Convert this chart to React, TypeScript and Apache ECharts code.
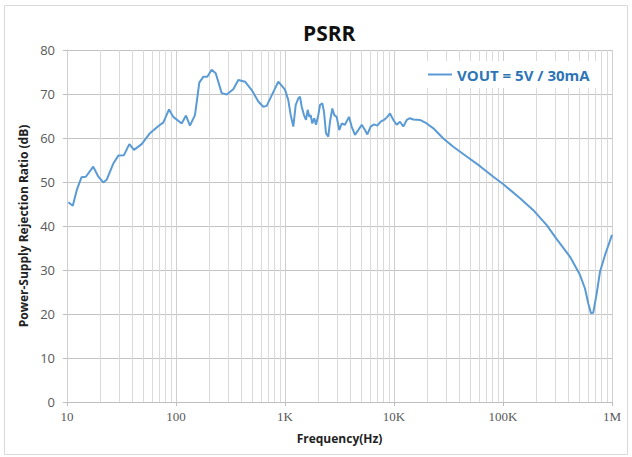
import React, { useEffect, useRef } from "react";
import * as echarts from "echarts";

// Frequency (Hz) and PSRR (dB)
const freqHz: number[] = [
  10.3, 11.3, 12.3, 13.6, 14.9, 17.4, 19.4, 21.5, 23.1, 26.6, 29.6, 33.3, 37.3, 41.2, 48.4,
  57.7, 71.3, 76.4, 86.3, 94.4, 112.8, 123.5, 134.3, 149.3, 163.6, 177.8, 193.6, 212.6, 231.4,
  262.5, 291.6, 335.6, 373, 430, 495, 569, 632, 679, 868, 1000,
  1072, 1128, 1192, 1254, 1325, 1373, 1423, 1494, 1559, 1615, 1671, 1721, 1779, 1857, 1924,
  2021, 2094, 2198, 2278, 2377, 2495, 2588, 2716, 2833, 2979, 3148, 3311, 3548, 3862, 4090,
  4387, 4699, 5055, 5420, 5689, 6109, 6561, 7031, 7551, 8091, 8689, 9185, 9863, 10590, 11350,
  12170, 13090, 14030, 15030, 17330, 19950, 22970, 28330, 35000, 46450, 61500, 81500, 100700,
  143300, 189700, 251800, 311000, 412000, 508000, 565000, 606000, 641000, 673000, 724000,
  776000, 863000, 1000000,
];
const psrrDb: number[] = [
  45.4, 44.6, 48.2, 51.1, 51.2, 53.5, 51.2, 49.9, 50.5, 54.2, 56.0, 56.1, 58.6, 57.3, 58.6,
  61.1, 63.0, 63.5, 66.5, 64.8, 63.3, 65.1, 62.8, 65.2, 72.6, 73.9, 73.9, 75.5, 74.7,
  70.2, 69.9, 71.1, 73.2, 72.8, 70.9, 68.3, 67.1, 67.3, 72.8, 71.0,
  68.6, 65.2, 62.6, 67.5, 69.0, 69.4, 67.1, 65.2, 64.1, 66.4, 64.8, 65.2, 63.3, 64.5, 63.0,
  65.2, 67.5, 67.9, 66.0, 61.1, 60.3, 63.7, 66.7, 65.2, 64.8, 61.8, 63.3, 63.0, 64.8, 62.6,
  60.7, 61.8, 63.0, 61.8, 60.8, 62.6, 63.1, 62.8, 63.7, 64.1, 64.8, 65.6, 64.1, 63.0, 63.7,
  62.6, 64.1, 64.5, 64.2, 64.1, 63.3, 62.2, 59.9, 58.0, 55.8, 53.6, 51.2, 49.5,
  46.3, 43.6, 40.2, 37.0, 33.0, 28.9, 25.8, 22.4, 20.2, 20.3, 24.7,
  29.6, 33.4, 38.0,
];

const xTickLabels: string[] = ["10", "100", "1K", "10K", "100K", "1M"];
const minorGridHz: number[] = [
  20, 30, 40, 50, 60, 70, 80, 90,
  200, 300, 400, 500, 600, 700, 800, 900,
  2000, 3000, 4000, 5000, 6000, 7000, 8000, 9000,
  20000, 30000, 40000, 50000, 60000, 70000, 80000, 90000,
  200000, 300000, 400000, 500000, 600000, 700000, 800000, 900000,
];
const seriesName = "VOUT = 5V / 30mA";
const titleText = "PSRR";
const xAxisName = "Frequency(Hz)";
const yAxisName = "Power-Supply Rejection Ratio (dB)";

export default function App() {
  const ref = useRef<HTMLDivElement>(null);
  useEffect(() => {
    if (!ref.current) return;
    const chart = echarts.init(ref.current, undefined, { renderer: "svg" });
    const data = freqHz.map((f, i) => [f, psrrDb[i]]);
    chart.setOption({
      animation: false,
      backgroundColor: "#ffffff",
      title: {
        text: titleText,
        left: 298,
        top: 17,
        textStyle: { fontFamily: "Open Sans", fontWeight: "bold", fontSize: 21, color: "#111111" },
      },
      legend: {
        data: [seriesName],
        left: 422,
        top: 61,
        z: 10,
        padding: [6, 10, 6, 6],
        backgroundColor: "#ffffff",
        icon: "rect",
        itemWidth: 24,
        itemHeight: 2,
        itemGap: 5,
        textStyle: { fontFamily: "Open Sans", fontWeight: "bold", fontSize: 15, color: "#2E75B6" },
      },
      graphic: [
        {
          type: "rect",
          shape: { x: 4.5, y: 5.5, width: 623, height: 449 },
          style: { fill: "none", stroke: "#d9d9d9", lineWidth: 1 },
          silent: true,
        },
      ],
      grid: { left: 67, right: 20, top: 50, bottom: 55, containLabel: false },
      xAxis: {
        type: "log",
        logBase: 10,
        min: 10,
        max: 1000000,
        splitNumber: 5,
        name: xAxisName,
        nameLocation: "middle",
        nameGap: 30,
        nameTextStyle: { fontFamily: "Open Sans", fontWeight: "bold", fontSize: 12, color: "#222222" },
        axisLine: { show: true, lineStyle: { color: "#bfbfbf", width: 1 } },
        axisTick: { show: true, length: 4, lineStyle: { color: "#bfbfbf" } },
        axisLabel: {
          margin: 8,
          fontFamily: "Liberation Serif",
          fontSize: 13,
          color: "#595959",
          formatter: (v: number) => {
            const idx = Math.round(Math.log10(v)) - 1;
            return xTickLabels[idx] ?? "";
          },
        },
        splitLine: { show: true, lineStyle: { color: "#cfcfcf", width: 1 } },
        minorTick: { show: false },
        minorSplitLine: { show: false },
      },
      yAxis: {
        type: "value",
        min: 0,
        max: 80,
        interval: 10,
        name: yAxisName,
        nameLocation: "middle",
        nameGap: 37,
        nameTextStyle: { fontFamily: "Open Sans", fontWeight: "bold", fontSize: 12, color: "#222222" },
        axisLine: { show: true, lineStyle: { color: "#cfcfcf", width: 1 } },
        axisTick: { show: true, length: 4, lineStyle: { color: "#bfbfbf" } },
        axisLabel: { margin: 12, fontFamily: "Open Sans", fontSize: 13, color: "#595959" },
        splitLine: { show: true, lineStyle: { color: "#c4c4c4", width: 1 } },
      },
      series: [
        {
          name: "minor-grid",
          type: "line",
          data: [],
          silent: true,
          z: 1,
          markLine: {
            z: 1,
            silent: true,
            symbol: "none",
            label: { show: false },
            animation: false,
            lineStyle: { color: "#dadada", width: 1, type: "solid" },
            data: minorGridHz.map((f) => ({ xAxis: f })),
          },
        },
        {
          name: seriesName,
          type: "line",
          data,
          z: 3,
          showSymbol: false,
          symbol: "none",
          smooth: false,
          lineStyle: { color: "#5B9BD5", width: 2 },
          itemStyle: { color: "#5B9BD5" },
        },
      ],
    });
    return () => chart.dispose();
  }, []);
  return (
    <div
      ref={ref}
      style={{ position: "fixed", left: 0, top: 0, width: 632, height: 457, background: "#fff" }}
    />
  );
}
